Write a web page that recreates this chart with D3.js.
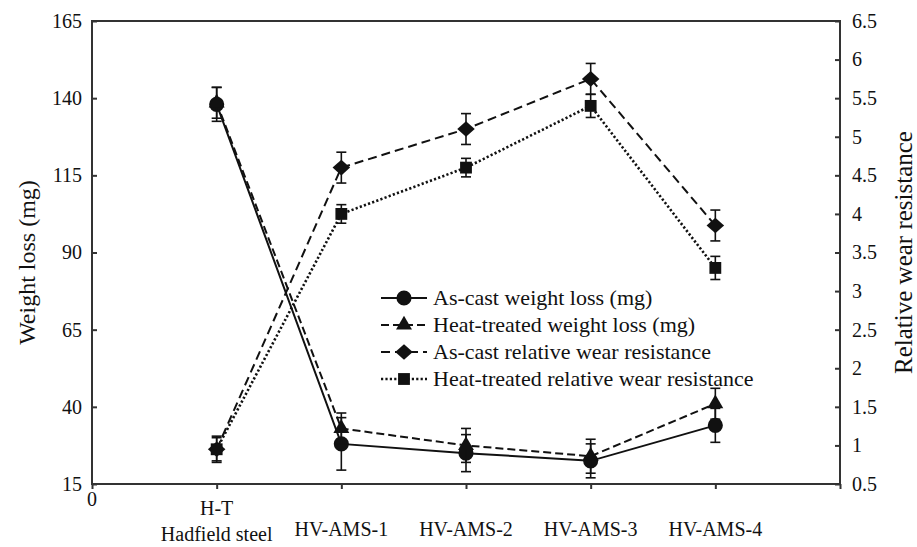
<!DOCTYPE html>
<html><head><meta charset="utf-8">
<script src="https://cdn.jsdelivr.net/npm/d3@7"></script>
<style>body{margin:0;background:#fff}svg{display:block}text{font-family:"Liberation Serif","Times New Roman",serif;fill:#111}</style>
</head><body><svg id="c" width="917" height="547"></svg>
<script>
const categories = ["H-T|Hadfield steel","HV-AMS-1","HV-AMS-2","HV-AMS-3","HV-AMS-4"];
const catPos = [1,2,3,4,5];
const asCastWeight = [138, 28, 25, 22.5, 34];
const asCastWeightErr = [5.5, 8.5, 6, 5.5, 5.5];
const htWeight = [138.5, 33, 27.5, 24, 41];
const htWeightErr = [5, 5, 5.5, 5.5, 5];
const asCastRWR = [0.95, 4.6, 5.1, 5.75, 3.85];
const asCastRWRErr = [0.17, 0.2, 0.2, 0.2, 0.2];
const htRWR = [0.95, 4.0, 4.6, 5.4, 3.3];
const htRWRErr = [0.15, 0.12, 0.12, 0.15, 0.15];
const leftTicks = [15,40,65,90,115,140,165];
const rightTicks = [0.5,1,1.5,2,2.5,3,3.5,4,4.5,5,5.5,6,6.5];
const legendLabels = ["As-cast weight loss (mg)","Heat-treated weight loss (mg)","As-cast relative wear resistance","Heat-treated relative wear resistance"];

const svg = d3.select("#c");
const L=92,R=840,T=21,B=484;
const x = d3.scaleLinear().domain([0,6]).range([L,R]);
const yL = d3.scaleLinear().domain([15,165]).range([B,T]);
const yR = d3.scaleLinear().domain([0.5,6.5]).range([B,T]);
const ink="#111", axisCol="#333";

// wide diamond symbol
const wideDiamond = {draw(ctx,size){const w=Math.sqrt(size)*0.62,h=Math.sqrt(size)*0.55;
  ctx.moveTo(0,-h);ctx.lineTo(w,0);ctx.lineTo(0,h);ctx.lineTo(-w,0);ctx.closePath();}};

svg.append("rect").attr("x",L).attr("y",T).attr("width",R-L).attr("height",B-T)
  .attr("fill","none").attr("stroke",axisCol).attr("stroke-width",2);

const gl = svg.append("g").attr("transform",`translate(${L},0)`)
  .call(d3.axisLeft(yL).tickValues(leftTicks).tickSize(-5).tickPadding(10).tickFormat(d3.format("d")));
const gr = svg.append("g").attr("transform",`translate(${R},0)`)
  .call(d3.axisRight(yR).tickValues(rightTicks).tickSize(-5).tickPadding(12).tickFormat(d=>String(d)));
const gb = svg.append("g").attr("transform",`translate(0,${B})`)
  .call(d3.axisBottom(x).tickValues([0,1,2,3,4,5,6]).tickSize(5).tickFormat(""));
[gl,gr,gb].forEach(g=>{g.select(".domain").remove();g.selectAll("line").attr("stroke",axisCol).attr("stroke-width",2);
  g.selectAll("text").style("font-size","20px").attr("fill",ink);});

svg.append("text").attr("x",x(0)).attr("y",506).attr("text-anchor","middle").style("font-size","20px").text("0");
categories.forEach((c,i)=>{
  const parts=c.split("|");
  if(parts.length>1){
    svg.append("text").attr("x",x(catPos[i])).attr("y",515).attr("text-anchor","middle").style("font-size","20px").text(parts[0]);
    svg.append("text").attr("x",x(catPos[i])).attr("y",541).attr("text-anchor","middle").style("font-size","20px").text(parts[1]);
  } else {
    svg.append("text").attr("x",x(catPos[i])).attr("y",536).attr("text-anchor","middle").style("font-size","20px").text(c);
  }
});

svg.append("text").attr("transform",`translate(35,${(T+B)/2+10}) rotate(-90)`).attr("text-anchor","middle").style("font-size","24px").text("Weight loss (mg)");
svg.append("text").attr("transform",`translate(912,${(T+B)/2}) rotate(-90)`).attr("text-anchor","middle").style("font-size","25px").text("Relative wear resistance");

const series = [
  {vals:asCastWeight, err:asCastWeightErr, y:yL, dash:null, sym:d3.symbolCircle, size:180},
  {vals:htWeight, err:htWeightErr, y:yL, dash:"8,4", sym:d3.symbolTriangle, size:110},
  {vals:asCastRWR, err:asCastRWRErr, y:yR, dash:"9,5", sym:wideDiamond, size:200},
  {vals:htRWR, err:htRWRErr, y:yR, dash:"2.2,2.2", sym:d3.symbolSquare, size:140}
];

series.forEach(s=>{
  const line=d3.line().x((d,i)=>x(catPos[i])).y(d=>s.y(d));
  svg.append("path").datum(s.vals).attr("d",line).attr("fill","none").attr("stroke",ink)
    .attr("stroke-width",s.dash==="2.2,2.2"?2.6:2).attr("stroke-dasharray",s.dash);
});
series.forEach(s=>{
  const g=svg.append("g");
  s.vals.forEach((v,i)=>{
    const cx=x(catPos[i]), y1=s.y(v+s.err[i]), y2=s.y(v-s.err[i]);
    g.append("line").attr("x1",cx).attr("x2",cx).attr("y1",y1).attr("y2",y2).attr("stroke",ink).attr("stroke-width",1.6);
    [y1,y2].forEach(yy=>g.append("line").attr("x1",cx-5).attr("x2",cx+5).attr("y1",yy).attr("y2",yy).attr("stroke",ink).attr("stroke-width",1.6));
    g.append("path").attr("d",d3.symbol().type(s.sym).size(s.size)()).attr("transform",`translate(${cx},${s.y(v)})`).attr("fill",ink);
  });
});

const lg=svg.append("g");
legendLabels.forEach((lab,i)=>{
  const yy=298+i*27, s=series[i];
  lg.append("line").attr("x1",381).attr("x2",427).attr("y1",yy).attr("y2",yy).attr("stroke",ink)
    .attr("stroke-width",s.dash==="2.2,2.2"?2.6:2).attr("stroke-dasharray",s.dash);
  lg.append("path").attr("d",d3.symbol().type(s.sym).size(s.size)()).attr("transform",`translate(404,${yy})`).attr("fill",ink);
  lg.append("text").attr("x",433).attr("y",yy+7).style("font-size","22px").text(lab);
});
</script></body></html>
